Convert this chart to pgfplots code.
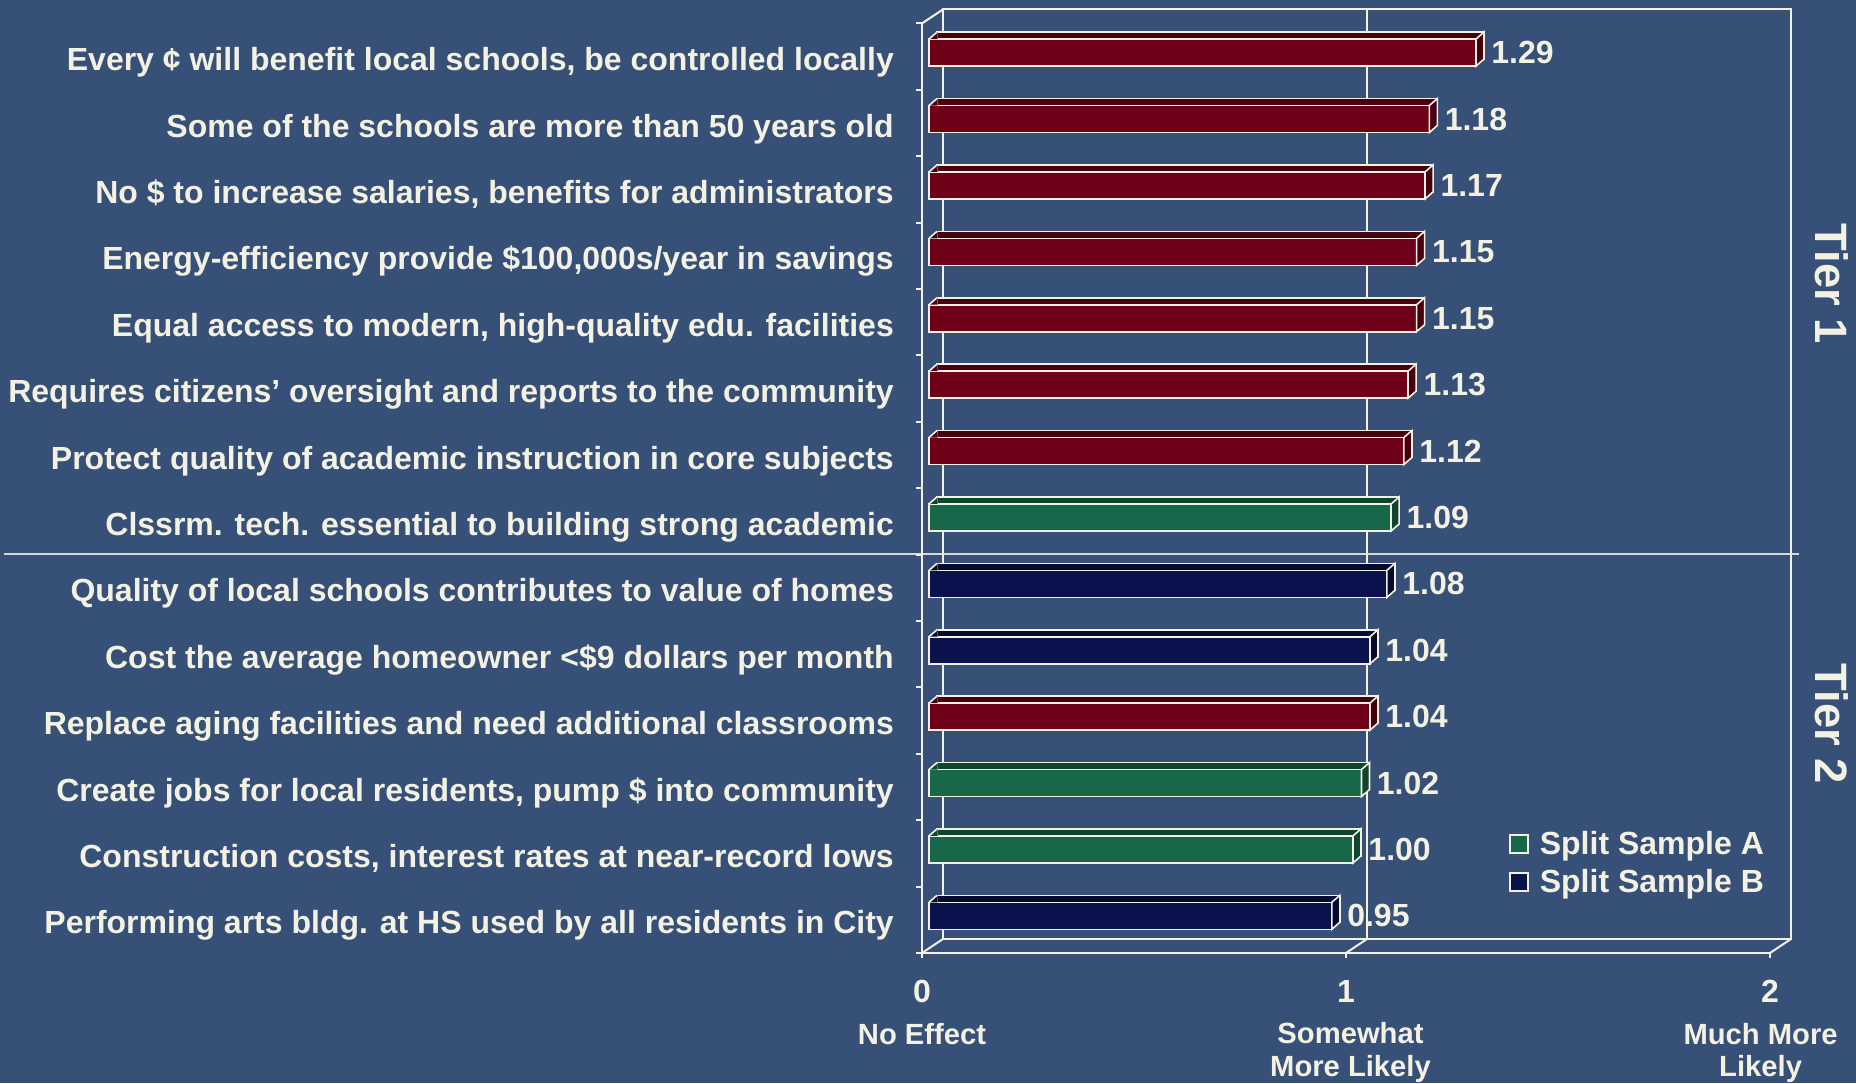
\documentclass[border=0pt]{standalone}
\usepackage{pgfplots}
\pgfplotsset{compat=1.18}
\usepackage{fontspec}
\setmainfont{Liberation Sans}
\definecolor{bg}{HTML}{365077}
\definecolor{cream}{HTML}{F3F1E2}
\definecolor{redf}{HTML}{6E0019}
\definecolor{redd}{HTML}{480010}
\definecolor{grnf}{HTML}{17684A}
\definecolor{grnd}{HTML}{0D4531}
\definecolor{navf}{HTML}{0A124D}
\definecolor{navd}{HTML}{050A30}
\tikzset{fr/.style={draw=cream, line width=1pt}}
\def\FR{-3.5pt,-2pt}
\def\BK{7pt,5pt}
% right end face of a bar (drawn at the data point = bar end)
\pgfdeclareplotmark{endface}{%
  \pgfpathmoveto{\pgfpoint{0pt}{-6.75pt}}%
  \pgfpathlineto{\pgfpoint{0pt}{6.75pt}}%
  \pgfpathlineto{\pgfpoint{4pt}{10.25pt}}%
  \pgfpathlineto{\pgfpoint{4pt}{-3.25pt}}%
  \pgfpathclose
  \pgfusepathqfillstroke}
% left corner of the top face (drawn at the bar start)
\pgfdeclareplotmark{startface}{%
  \pgfpathmoveto{\pgfpoint{0pt}{6.75pt}}%
  \pgfpathlineto{\pgfpoint{4pt}{10.25pt}}%
  \pgfpathlineto{\pgfpoint{4.3pt}{10.25pt}}%
  \pgfpathlineto{\pgfpoint{4.3pt}{6.75pt}}%
  \pgfpathclose
  \pgfusepathqfill
  \pgfpathmoveto{\pgfpoint{0pt}{6.75pt}}%
  \pgfpathlineto{\pgfpoint{4pt}{10.25pt}}%
  \pgfusepathqstroke}
\begin{document}
\begin{tikzpicture}
\path[use as bounding box, fill=bg] (0,0) rectangle (928pt,541.5pt);
\draw[cream!85!bg, line width=0.6pt] (2pt,264.5pt) -- (899.5pt,264.5pt);
\node[rotate=-90, text=cream, font=\bfseries\fontsize{22.7}{24}\selectfont] at (916pt,399.5pt) {Tier 1};
\node[rotate=-90, text=cream, font=\bfseries\fontsize{22.7}{24}\selectfont] at (916pt,179.5pt) {Tier 2};
\begin{axis}[
  at={(464.5pt,67pt)}, anchor=south west,
  scale only axis, width=424pt, height=464.8pt,
  xmin=0, xmax=2, ymin=-0.5, ymax=13.5, y dir=reverse,
  enlargelimits=false, clip=false,
  bar width=13.5pt, bar shift=0pt,
  axis line style={draw=none}, tick style={draw=none},
  /pgf/number format/assume math mode=true,
  xtick={0,1,2},
  xticklabels={{{\fontsize{16}{16}\selectfont 0}\\[4.5pt]No Effect},
               {{\fontsize{16}{16}\selectfont 1}\\[4.5pt]\hspace*{4.5pt}Somewhat\\\hspace*{4.5pt}More Likely},
               {{\fontsize{16}{16}\selectfont 2}\\[4.5pt]Much More\hspace*{9.4pt}\mbox{}\\Likely\hspace*{9.4pt}\mbox{}}},
  xticklabel style={align=center, anchor=north, inner sep=0pt, yshift=-15.5pt, xshift=-3.5pt,
     font=\bfseries\fontsize{14.6}{16.25}\selectfont, text=cream},
  ytick={0,...,13},
  yticklabels={
    {Every ¢ will benefit local schools, be controlled locally},
    {Some of the schools are more than 50 years old},
    {No \$ to increase salaries, benefits for administrators},
    {Energy-efficiency provide \$100,000s/year in savings},
    {Equal access to modern, high-quality edu. facilities},
    {Requires citizens’ oversight and reports to the community},
    {Protect quality of academic instruction in core subjects},
    {Clssrm. tech. essential to building strong academic~},
    {Quality of local schools contributes to value of homes},
    {Cost the average homeowner <\$9 dollars per month},
    {Replace aging facilities and need additional classrooms},
    {Create jobs for local residents, pump \$ into community},
    {Construction costs, interest rates at near-record lows},
    {Performing arts bldg. at HS used by all residents in City}},
  yticklabel style={anchor=base east, inner sep=0pt, xshift=-17.4pt, yshift=-9pt,
     font=\bfseries\fontsize{16}{19}\selectfont, text=cream},
  vals/.style={point meta=x,
     nodes near coords={\pgfmathprintnumber[fixed,fixed zerofill,precision=2]{\pgfplotspointmeta}},
     every node near coord/.append style={font=\bfseries\fontsize{16}{16}\selectfont, text=cream, anchor=west, xshift=4pt}},
  legend style={at={(0.684,0.0924)}, anchor=west, draw=none, fill=none, inner sep=0pt,
     font=\bfseries\fontsize{16}{16}\selectfont, text=cream, row sep=2pt,
     /tikz/every odd column/.append style={column sep=3.4pt}},
  legend cell align=left,
]
% back wall
\draw[fr] ([shift={(\BK)}]axis cs:0,-0.5) rectangle ([shift={(\BK)}]axis cs:2,13.5);
\draw[cream, line width=0.8pt] ([shift={(\BK)}]axis cs:1,-0.5) -- ([shift={(\BK)}]axis cs:1,13.5);
% top faces (offset copies)
\addplot[xbar, forget plot, fill=redd, draw=cream, line width=0.8pt, xshift=4pt, yshift=3.5pt]
  coordinates {(1.29,0) (1.18,1) (1.17,2) (1.15,3) (1.15,4) (1.13,5) (1.12,6) (1.04,10)};
\addplot[xbar, forget plot, fill=grnd, draw=cream, line width=0.8pt, xshift=4pt, yshift=3.5pt]
  coordinates {(1.09,7) (1.02,11) (1.00,12)};
\addplot[xbar, forget plot, fill=navd, draw=cream, line width=0.8pt, xshift=4pt, yshift=3.5pt]
  coordinates {(1.08,8) (1.04,9) (0.95,13)};
% front faces
\addplot[xbar, forget plot, fill=redf, draw=cream, line width=0.8pt, vals]
  coordinates {(1.29,0) (1.18,1) (1.17,2) (1.15,3) (1.15,4) (1.13,5) (1.12,6) (1.04,10)};
\addplot[xbar, fill=grnf, draw=cream, line width=0.8pt, vals,
  legend image code/.code={\draw[fill=grnf, draw=cream, line width=0.8pt] (0pt,-4.5pt) rectangle (9pt,4.5pt);}]
  coordinates {(1.09,7) (1.02,11) (1.00,12)};
\addlegendentry{Split Sample A}
\addplot[xbar, fill=navf, draw=cream, line width=0.8pt, vals,
  legend image code/.code={\draw[fill=navf, draw=cream, line width=0.8pt] (0pt,-4.5pt) rectangle (9pt,4.5pt);}]
  coordinates {(1.08,8) (1.04,9) (0.95,13)};
\addlegendentry{Split Sample B}
% end faces and start corners
\addplot[forget plot, only marks, mark=endface, mark options={fill=redd, draw=cream, line width=0.8pt}]
  coordinates {(1.29,0) (1.18,1) (1.17,2) (1.15,3) (1.15,4) (1.13,5) (1.12,6) (1.04,10)};
\addplot[forget plot, only marks, mark=endface, mark options={fill=grnd, draw=cream, line width=0.8pt}]
  coordinates {(1.09,7) (1.02,11) (1.00,12)};
\addplot[forget plot, only marks, mark=endface, mark options={fill=navd, draw=cream, line width=0.8pt}]
  coordinates {(1.08,8) (1.04,9) (0.95,13)};
\addplot[forget plot, only marks, mark=startface, mark options={fill=redd, draw=cream, line width=0.8pt}]
  coordinates {(0,0) (0,1) (0,2) (0,3) (0,4) (0,5) (0,6) (0,10)};
\addplot[forget plot, only marks, mark=startface, mark options={fill=grnd, draw=cream, line width=0.8pt}]
  coordinates {(0,7) (0,11) (0,12)};
\addplot[forget plot, only marks, mark=startface, mark options={fill=navd, draw=cream, line width=0.8pt}]
  coordinates {(0,8) (0,9) (0,13)};
% front frame
\draw[fr] ([shift={(\FR)}]axis cs:0,-0.5) -- ([shift={(\FR)}]axis cs:0,13.5) -- ([shift={(\FR)}]axis cs:2,13.5);
\draw[fr] ([shift={(\FR)}]axis cs:0,-0.5) -- ([shift={(\BK)}]axis cs:0,-0.5);
\draw[fr] ([shift={(\FR)}]axis cs:0,13.5) -- ([shift={(\BK)}]axis cs:0,13.5);
\draw[fr] ([shift={(\FR)}]axis cs:1,13.5) -- ([shift={(\BK)}]axis cs:1,13.5);
\draw[fr] ([shift={(\FR)}]axis cs:2,13.5) -- ([shift={(\BK)}]axis cs:2,13.5);
\pgfplotsinvokeforeach{-0.5,0.5,...,13.5}{
  \draw[fr] ([shift={(\FR)}]axis cs:0,#1) -- ++(-3pt,0pt);
}
\pgfplotsinvokeforeach{0,1,2}{
  \draw[fr] ([shift={(\FR)}]axis cs:#1,13.5) -- ++(0pt,-2.5pt);
}
\end{axis}
\end{tikzpicture}
\end{document}
